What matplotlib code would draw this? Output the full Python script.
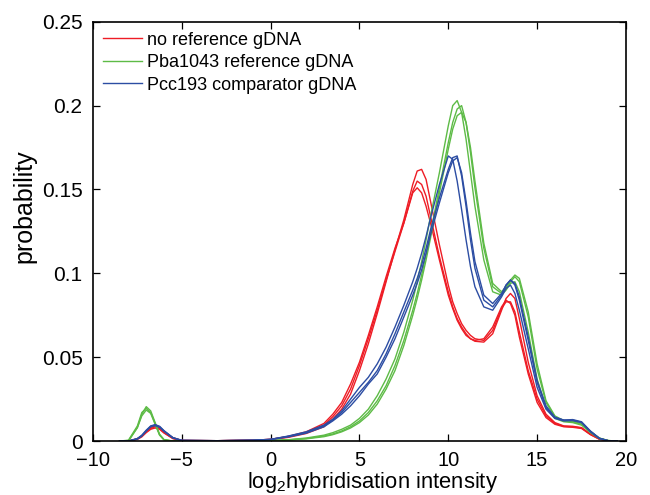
import matplotlib
matplotlib.use("Agg")
import matplotlib.pyplot as plt

plt.rcParams["font.family"] = ["Liberation Sans", "DejaVu Sans"]
plt.rcParams["mathtext.fontset"] = "custom"
plt.rcParams["mathtext.rm"] = "Liberation Sans"

# log2 intensity grid (finer near the peaks)
x = [-8.5, -8, -7.5, -7.25, -7, -6.75, -6.5, -6.25, -6, -5.5, -5, -3, -1, 0, 1, 2, 3,
     3.5, 4, 4.5, 5, 5.5, 6, 6.5, 7, 7.5, 8, 8.25, 8.5, 8.75, 9, 9.5, 10, 10.25,
     10.5, 10.75, 11, 11.25, 11.5, 12, 12.5, 13, 13.25, 13.5, 13.75, 14, 14.5, 15,
     15.5, 16, 16.5, 17, 17.5, 18, 18.5, 19, 19.5]

# no reference gDNA
red_1 = [0, 0, 0.0015, 0.003, 0.0055, 0.0075, 0.0085, 0.0075, 0.005, 0.0015, 0.0003,
         0.0002, 0.0004, 0.0008, 0.0022, 0.0045, 0.0085, 0.013, 0.019, 0.028, 0.042,
         0.058, 0.076, 0.095, 0.114, 0.132, 0.153, 0.161, 0.162, 0.156, 0.143, 0.117,
         0.093, 0.083, 0.076, 0.070, 0.066, 0.063, 0.061, 0.060, 0.066, 0.079, 0.083,
         0.083, 0.077, 0.065, 0.042, 0.025, 0.015, 0.0105, 0.0088, 0.0085, 0.0078,
         0.004, 0.0012, 0.0002, 0]
red_2 = [0, 0, 0.001, 0.0025, 0.005, 0.007, 0.0078, 0.007, 0.0048, 0.0015, 0.0003,
         0.0002, 0.0005, 0.001, 0.0025, 0.005, 0.0095, 0.0145, 0.021, 0.031, 0.045,
         0.061, 0.078, 0.096, 0.113, 0.13, 0.149, 0.155, 0.153, 0.146, 0.134, 0.11,
         0.089, 0.08, 0.073, 0.068, 0.064, 0.061, 0.0595, 0.059, 0.064, 0.078, 0.085,
         0.088, 0.085, 0.073, 0.047, 0.027, 0.016, 0.011, 0.009, 0.0088, 0.008,
         0.0042, 0.0013, 0.0002, 0]
red_3 = [0, 0, 0.0012, 0.0028, 0.006, 0.008, 0.009, 0.008, 0.0055, 0.002, 0.0004,
         0.0002, 0.0005, 0.001, 0.0028, 0.0055, 0.0105, 0.016, 0.023, 0.034, 0.047,
         0.063, 0.08, 0.098, 0.115, 0.13, 0.148, 0.151, 0.148, 0.14, 0.13, 0.108,
         0.087, 0.079, 0.072, 0.067, 0.063, 0.061, 0.06, 0.061, 0.068, 0.08, 0.084,
         0.082, 0.075, 0.062, 0.04, 0.023, 0.014, 0.01, 0.0085, 0.0082, 0.0075,
         0.0038, 0.0011, 0.0002, 0]

# Pba1043 reference gDNA
green_1 = [0, 0, 0.008, 0.016, 0.0205, 0.018, 0.011, 0.004, 0.0008, 0, 0, 0, 0.0001,
           0.0003, 0.0008, 0.0018, 0.0035, 0.005, 0.007, 0.0095, 0.0135, 0.019, 0.027,
           0.037, 0.049, 0.065, 0.084, 0.095, 0.107, 0.12, 0.134, 0.16, 0.188, 0.2,
           0.203, 0.196, 0.18, 0.16, 0.14, 0.108, 0.089, 0.087, 0.09, 0.094, 0.095,
           0.089, 0.065, 0.037, 0.02, 0.0135, 0.0115, 0.011, 0.0095, 0.005, 0.0015,
           0.0002, 0]
green_2 = [0, 0.0005, 0.009, 0.017, 0.0195, 0.017, 0.0105, 0.0038, 0.0008, 0, 0, 0,
           0.0001, 0.0003, 0.0007, 0.0015, 0.003, 0.0042, 0.006, 0.0085, 0.012, 0.017,
           0.024, 0.033, 0.045, 0.06, 0.078, 0.088, 0.099, 0.111, 0.124, 0.151, 0.178,
           0.19, 0.198, 0.2, 0.19, 0.172, 0.151, 0.115, 0.092, 0.088, 0.091, 0.095,
           0.098, 0.095, 0.074, 0.043, 0.023, 0.0145, 0.012, 0.0115, 0.01, 0.0055,
           0.0017, 0.0003, 0]
green_3 = [0, 0.0003, 0.008, 0.015, 0.0185, 0.0165, 0.01, 0.0035, 0.0007, 0, 0, 0,
           0.0001, 0.0002, 0.0006, 0.0013, 0.0026, 0.0038, 0.0055, 0.0078, 0.011,
           0.0155, 0.022, 0.031, 0.042, 0.057, 0.075, 0.085, 0.096, 0.108, 0.121, 0.148,
           0.174, 0.186, 0.194, 0.196, 0.19, 0.175, 0.155, 0.118, 0.094, 0.089, 0.092,
           0.096, 0.099, 0.097, 0.077, 0.046, 0.024, 0.015, 0.0122, 0.0118, 0.0102,
           0.0058, 0.0018, 0.0003, 0]

# Pcc193 comparator gDNA
blue_1 = [0, 0, 0.0012, 0.003, 0.006, 0.0088, 0.0095, 0.0085, 0.006, 0.002, 0.0004,
          0.0002, 0.0005, 0.001, 0.003, 0.0055, 0.0095, 0.013, 0.018, 0.025, 0.032,
          0.038, 0.046, 0.056, 0.068, 0.081, 0.095, 0.103, 0.112, 0.122, 0.133, 0.153,
          0.17, 0.168, 0.155, 0.138, 0.12, 0.104, 0.092, 0.08, 0.078, 0.086, 0.091,
          0.093, 0.088, 0.078, 0.055, 0.032, 0.019, 0.0135, 0.012, 0.0122, 0.011,
          0.0055, 0.0015, 0.0002, 0]
blue_2 = [0, 0, 0.0015, 0.0035, 0.0065, 0.009, 0.0098, 0.0088, 0.0062, 0.002, 0.0004,
          0.0002, 0.0005, 0.001, 0.0028, 0.005, 0.009, 0.0125, 0.017, 0.023, 0.029,
          0.035, 0.042, 0.052, 0.064, 0.077, 0.09, 0.097, 0.105, 0.115, 0.126, 0.145,
          0.162, 0.169, 0.17, 0.158, 0.14, 0.12, 0.103, 0.084, 0.08, 0.087, 0.093,
          0.096, 0.093, 0.084, 0.06, 0.035, 0.02, 0.014, 0.0125, 0.0128, 0.0115,
          0.006, 0.0017, 0.0002, 0]
blue_3 = [0, 0, 0.0013, 0.0032, 0.006, 0.0085, 0.0092, 0.0082, 0.0058, 0.0018, 0.0003,
          0.0002, 0.0004, 0.0009, 0.0025, 0.0047, 0.0085, 0.012, 0.016, 0.021, 0.027,
          0.034, 0.04, 0.05, 0.061, 0.074, 0.087, 0.094, 0.102, 0.112, 0.123, 0.142,
          0.16, 0.167, 0.169, 0.16, 0.143, 0.124, 0.107, 0.087, 0.082, 0.088, 0.093,
          0.096, 0.094, 0.086, 0.062, 0.036, 0.021, 0.0142, 0.0125, 0.0125, 0.0112,
          0.0058, 0.0016, 0.0002, 0]

groups = [
    ("no reference gDNA", "#ee1c25", [red_1, red_2, red_3]),
    ("Pba1043 reference gDNA", "#5dbb46", [green_1, green_2, green_3]),
    ("Pcc193 comparator gDNA", "#2c4da3", [blue_1, blue_2, blue_3]),
]

x_ticks = [-10, -5, 0, 5, 10, 15, 20]
y_ticks = [0, 0.05, 0.1, 0.15, 0.2, 0.25]
y_tick_labels = ["0", "0.05", "0.1", "0.15", "0.2", "0.25"]

fig = plt.figure(figsize=(6.5, 4.95), dpi=100)
ax = fig.add_axes([0.143, 0.109, 0.820, 0.847])

for label, color, curves in groups:
    for i, y in enumerate(curves):
        ax.plot(x, y, color=color, lw=1.0, label=label if i == 0 else None)

ax.set_xlim(-10, 20)
ax.set_ylim(0, 0.25)
ax.set_xticks(x_ticks)
ax.set_yticks(y_ticks)
ax.set_yticklabels(y_tick_labels)
ax.tick_params(direction="in", top=True, right=True, length=5, width=0.9,
               labelsize=15)
ax.tick_params(axis="x", pad=7.4, labelsize=14.5)
ax.tick_params(axis="y", pad=7.5)
for sp in ax.spines.values():
    sp.set_linewidth(1.2)

ax.set_ylabel("probability", fontsize=18)
ax.yaxis.label.set_va("center")
ax.yaxis.set_label_coords(-0.128, 0.561)

# sits right under the tick labels, descenders just inside the canvas
ax.set_xlabel(r"log$_{\mathregular{2}}$hybridisation intensity", fontsize=15.8)
ax.xaxis.label.set_va("baseline")
ax.xaxis.set_label_coords(0.525, -0.112)

ax.legend(loc="upper left", frameon=False, fontsize=13, handlelength=2.15,
          handletextpad=0.3, labelspacing=0.3, borderaxespad=0.15,
          bbox_to_anchor=(0.0, 1.0))

fig.savefig("out.png", dpi=100)
